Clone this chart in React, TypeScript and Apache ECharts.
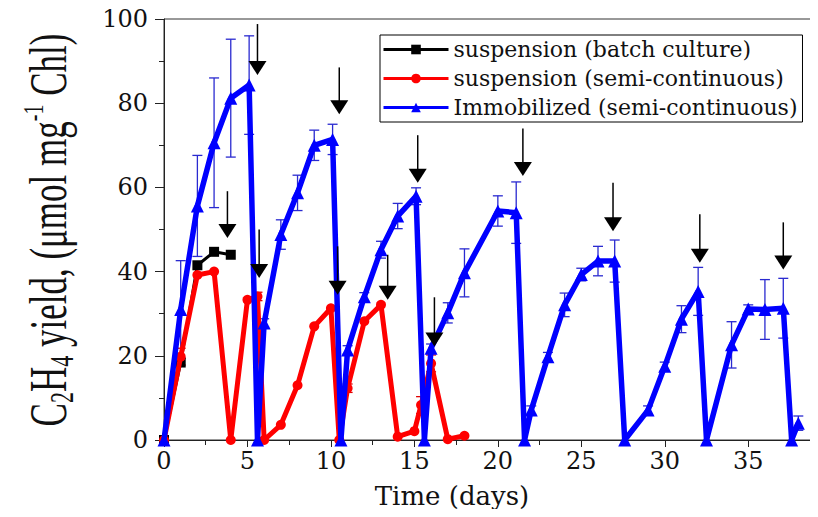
import React, { useEffect, useRef } from "react";
import * as echarts from "echarts";

const batchX = [0, 1, 2, 3, 4];
const batchY = [0, 18.4, 41.5, 44.7, 44];

const semiX = [0, 1, 2, 3, 4, 5, 5.6, 6, 7, 8, 9, 10, 10.5, 11, 12, 13, 14, 15, 15.4, 16, 17, 18];
const semiY = [0, 19.8, 39.2, 40, 0, 33.3, 34.1, 0, 3.6, 13, 27, 31.3, 0, 12.3, 28.2, 32.1, 0.8, 2.1, 8.3, 18.2, 0.2, 1];
const semiErr = [0, 2, 0, 0, 0, 0, 1, 0, 0, 0, 0, 0, 0, 1, 0, 0, 0, 0, 2, 2, 0, 0];

const immX = [0, 1, 2, 3, 4, 5.1, 5.6, 6, 7, 8, 9, 10.1, 10.6, 11, 12, 13, 14, 15.1, 15.6, 16, 17, 18, 20, 21.1, 21.6, 22, 23, 24, 25, 26, 27, 27.6, 29, 30, 31, 32, 32.5, 34, 35, 36, 37.1, 37.6, 38];
const immY = [0, 31, 55.6, 70.6, 81.2, 84.3, 0, 27.8, 48.8, 58.7, 70, 71.4, 0, 21.4, 34, 45.2, 53.2, 57.9, 0, 21.8, 30.2, 39.7, 54.4, 54, 0, 7.1, 19.8, 32.1, 39.3, 42.5, 42.5, 0, 7.1, 17.5, 28.7, 35.3, 0, 22.6, 31.1, 31, 31.3, 0, 4];
const immErr = [0, 11.6, 12, 15.4, 14, 11.7, 0, 1, 3.5, 4.2, 3.6, 3.6, 0, 1, 1, 2, 3, 2, 0, 1, 2.4, 5.7, 3.6, 7.3, 0, 1, 1, 2.8, 1.5, 3.5, 5, 0, 1, 1, 3.2, 5.7, 0, 5.5, 1, 7.1, 7.1, 0, 1.7];

const arrowX = [3.8, 5.6, 5.7, 10.5, 10.4, 13.4, 15.2, 16.2, 21.5, 26.9, 32.1, 37.1];
const arrowTop = [59.1, 98.8, 50, 88.5, 46, 44, 72.4, 33.9, 74, 61.1, 53.6, 51.7];
const arrowTip = [48, 86.7, 38.5, 77.4, 34.5, 33.3, 61.1, 22.2, 62.7, 49.6, 42.1, 40.5];

const seriesNames = [
  "suspension (batch culture)",
  "suspension (semi-continuous)",
  "Immobilized (semi-continuous)",
];

const errRender = (color: string) => (params: any, api: any) => {
  const x = api.value(0);
  const y = api.value(1);
  const e = api.value(2);
  if (!e) return null;
  const top = api.coord([x, y + e]);
  const bot = api.coord([x, Math.max(0, y - e)]);
  const w = 5;
  const style = { stroke: color, lineWidth: 1.3 };
  return {
    type: "group",
    children: [
      { type: "line", shape: { x1: top[0], y1: top[1], x2: bot[0], y2: bot[1] }, style },
      { type: "line", shape: { x1: top[0] - w, y1: top[1], x2: top[0] + w, y2: top[1] }, style },
      { type: "line", shape: { x1: bot[0] - w, y1: bot[1], x2: bot[0] + w, y2: bot[1] }, style },
    ],
  };
};

const arrowRender = (params: any, api: any) => {
  const x = api.value(0);
  const top = api.coord([x, api.value(1)]);
  const tip = api.coord([x, api.value(2)]);
  const hw = 9;
  const hh = 14;
  return {
    type: "group",
    children: [
      {
        type: "line",
        shape: { x1: top[0], y1: top[1], x2: tip[0], y2: tip[1] - hh + 2 },
        style: { stroke: "#000", lineWidth: 1.5 },
      },
      {
        type: "polygon",
        shape: { points: [[tip[0] - hw, tip[1] - hh], [tip[0] + hw, tip[1] - hh], [tip[0], tip[1]]] },
        style: { fill: "#000" },
      },
    ],
  };
};

export default function App() {
  const ref = useRef<HTMLDivElement>(null);
  useEffect(() => {
    if (!ref.current) return;
    const chart = echarts.init(ref.current, null, { renderer: "svg" });
    const axisColor = "#222";
    const option: any = {
      animation: false,
      grid: { left: 164, right: 3, top: 19, bottom: 77, show: true, borderColor: "#333", borderWidth: 1 },
      legend: {
        left: 380,
        top: 35,
        orient: "vertical",
        data: seriesNames,
        borderColor: "#000",
        borderWidth: 1,
        borderRadius: 0,
        padding: [3, 5, 3, 2],
        itemGap: 6,
        itemWidth: 65,
        itemHeight: 12,
        lineStyle: { width: 3 },
        textStyle: { fontFamily: "DejaVu Serif", fontSize: 22, color: "#111", lineHeight: 23 },
      },
      xAxis: {
        type: "value",
        min: 0,
        max: 39,
        interval: 5,
        axisLine: { lineStyle: { color: axisColor, width: 1 } },
        axisTick: { inside: false, length: 7, lineStyle: { color: axisColor } },
        minorTick: { show: true, splitNumber: 2, length: 5, lineStyle: { color: axisColor } },
        splitLine: { show: false },
        axisLabel: { fontFamily: "DejaVu Serif", fontSize: 24, color: "#111", margin: 9, showMaxLabel: false },
      },
      yAxis: {
        type: "value",
        min: 0,
        max: 100,
        interval: 20,
        axisLine: { show: true, lineStyle: { color: axisColor, width: 1 } },
        axisTick: { show: true, inside: false, length: 9, lineStyle: { color: axisColor } },
        minorTick: { show: true, splitNumber: 2, length: 5, lineStyle: { color: axisColor } },
        splitLine: { show: false },
        axisLabel: { fontFamily: "DejaVu Serif", fontSize: 24, color: "#111", margin: 16 },
      },
      graphic: [
        {
          type: "text",
          x: 452,
          y: 496,
          style: {
            text: "Time (days)",
            fontFamily: "DejaVu Serif",
            fontSize: 26,
            fill: "#111",
            align: "center",
            verticalAlign: "middle",
          },
        },
        {
          type: "text",
          x: 48,
          y: 230,
          rotation: Math.PI / 2,
          scaleY: 1.5,
          style: {
            text: "{n|C}{s|2}{n|H}{s|4}{n| yield, (μmol mg}{p|-1}{n| Chl)}",
            align: "center",
            verticalAlign: "middle",
            fill: "#111",
            rich: {
              n: { fontFamily: "Liberation Serif", fontSize: 35, lineHeight: 40, fill: "#111" },
              s: { fontFamily: "Liberation Serif", fontSize: 22, lineHeight: 22, verticalAlign: "bottom", fill: "#111" },
              p: { fontFamily: "Liberation Serif", fontSize: 20, lineHeight: 20, verticalAlign: "top", fill: "#111" },
            },
          },
        },
      ],
      series: [
        {
          name: seriesNames[2] + " err",
          type: "custom",
          z: 1,
          renderItem: errRender("#2a2ad0"),
          data: immX.map((x, i) => [x, immY[i], immErr[i]]),
        },
        {
          name: seriesNames[1] + " err",
          type: "custom",
          z: 1,
          renderItem: errRender("#e00000"),
          data: semiX.map((x, i) => [x, semiY[i], semiErr[i]]),
        },
        {
          name: seriesNames[0],
          type: "line",
          z: 3,
          color: "#000",
          symbol: "rect",
          symbolSize: 10,
          lineStyle: { width: 3, color: "#000" },
          itemStyle: { color: "#000" },
          data: batchX.map((x, i) => [x, batchY[i]]),
        },
        {
          name: seriesNames[1],
          type: "line",
          z: 4,
          color: "#ff0000",
          symbol: "circle",
          symbolSize: 10,
          lineStyle: { width: 5, color: "#ff0000" },
          itemStyle: { color: "#ff0000" },
          data: semiX.map((x, i) => [x, semiY[i]]),
        },
        {
          name: seriesNames[2],
          type: "line",
          z: 5,
          color: "#0000ff",
          symbol: "triangle",
          symbolSize: 13,
          lineStyle: { width: 5.5, color: "#0000ff" },
          itemStyle: { color: "#0000ff" },
          data: immX.map((x, i) => [x, immY[i]]),
        },
        {
          name: "arrows",
          type: "custom",
          z: 6,
          renderItem: arrowRender,
          data: arrowX.map((x, i) => [x, arrowTop[i], arrowTip[i]]),
        },
      ],
    };
    chart.setOption(option);
    return () => chart.dispose();
  }, []);
  return <div ref={ref} style={{ width: 818, height: 517, margin: -8 }} />;
}
